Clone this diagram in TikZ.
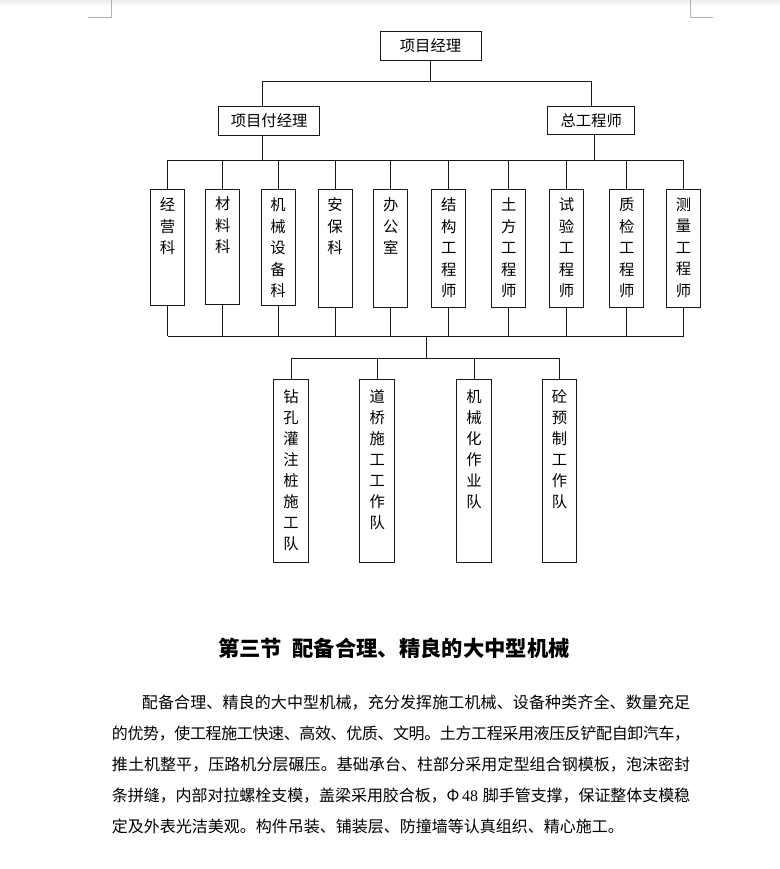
\documentclass[tikz,border=0pt]{standalone}
\usepackage{fontspec}
\newfontfamily\cjk{Noto Sans CJK SC}
\newfontfamily\tnr{Liberation Serif}
\def\jendmarkdef{\jend}
\def\jloop#1{\def\jtmp{#1}\ifx\jtmp\jendmarkdef\unskip\else#1\hss\expandafter\jloop\fi}
\newcommand\jline[2]{\makebox[#1][s]{\jloop#2\jend}}
\begin{document}
\begin{tikzpicture}[x=0.75pt,y=-0.75pt,
 ln/.style={draw=black!90, line width=0.75pt},
 hb/.style={draw=black!90, line width=0.75pt, inner sep=0pt, font=\cjk\fontsize{11.5pt}{13pt}\selectfont},
 vb/.style={draw=black!90, line width=0.75pt, inner sep=0pt, anchor=north, minimum width=25.5pt},
 vt/.style={anchor=north, inner sep=0pt, align=center, font=\cjk\fontsize{11.5pt}{16.1pt}\selectfont},
 wt/.style={vt, font=\cjk\fontsize{11.5pt}{15.75pt}\selectfont},
 para/.style={anchor=base west, inner sep=0pt, font=\cjk\fontsize{12pt}{14pt}\selectfont},
 ttl/.style={anchor=base, inner sep=0pt, font=\cjk\bfseries\fontsize{16pt}{18pt}\selectfont},
 corner/.style={draw=black!30, line width=0.75pt}]
\useasboundingbox (0,0) rectangle (780,869);
\fill[white] (0,0) rectangle (780,869);
\shade[top color=black!8, bottom color=white] (0,0) rectangle (780,6);
\draw[corner] (111,0) -- (111,17.3) -- (88.3,17.3);
\draw[corner] (690.7,0) -- (690.7,17.3) -- (713.3,17.3);

% top level
\node[hb, minimum width=101*0.75pt, minimum height=29*0.75pt] (pm) at (430.5,45.5) {项目经理};
\node[hb, minimum width=101.4*0.75pt, minimum height=28.6*0.75pt] (dpm) at (269.1,121) {项目付经理};
\node[hb, minimum width=87*0.75pt, minimum height=28.3*0.75pt] (ce) at (591.2,120.2) {总工程师};

% departments
\node[vb, minimum height=116*0.75pt] (d1) at (167.5,189) {};
\node[vb, minimum height=115*0.75pt] (d2) at (222.7,189) {};
\node[vb, minimum height=116*0.75pt] (d3) at (278,189) {};
\node[vb, minimum height=118*0.75pt] (d4) at (335,189) {};
\node[vb, minimum height=118*0.75pt] (d5) at (390.8,189) {};
\node[vb, minimum height=118*0.75pt] (d6) at (448.8,189) {};
\node[vb, minimum height=118*0.75pt] (d7) at (508.9,189) {};
\node[vb, minimum height=118*0.75pt] (d8) at (566.6,189) {};
\node[vb, minimum height=118*0.75pt] (d9) at (626.7,189) {};
\node[vb, minimum height=118*0.75pt] (d10) at (683.5,189) {};
\node[vt] (d1t) at ([yshift=-6.4pt]d1.north) {经\\营\\科};
\node[vt] (d2t) at ([yshift=-5.6pt]d2.north) {材\\料\\科};
\node[vt] (d3t) at ([yshift=-6.4pt]d3.north) {机\\械\\设\\备\\科};
\node[vt] (d4t) at ([yshift=-6.4pt]d4.north) {安\\保\\科};
\node[vt] (d5t) at ([yshift=-6.4pt]d5.north) {办\\公\\室};
\node[vt] (d6t) at ([yshift=-6.4pt]d6.north) {结\\构\\工\\程\\师};
\node[vt] (d7t) at ([yshift=-6.4pt]d7.north) {土\\方\\工\\程\\师};
\node[vt] (d8t) at ([yshift=-6.4pt]d8.north) {试\\验\\工\\程\\师};
\node[vt] (d9t) at ([yshift=-6.4pt]d9.north) {质\\检\\工\\程\\师};
\node[vt] (d10t) at ([yshift=-6.4pt]d10.north) {测\\量\\工\\程\\师};

% work teams
\node[vb, minimum width=34.5*0.75pt, minimum height=183.3*0.75pt] (w1) at (291,379) {};
\node[vb, minimum width=34.5*0.75pt, minimum height=183.3*0.75pt] (w2) at (377.2,379) {};
\node[vb, minimum width=34.5*0.75pt, minimum height=183.3*0.75pt] (w3) at (474,379) {};
\node[vb, minimum width=34.5*0.75pt, minimum height=183.3*0.75pt] (w4) at (559.5,379) {};
\node[wt] (w1t) at ([yshift=-7.5pt]w1.north) {钻\\孔\\灌\\注\\桩\\施\\工\\队};
\node[wt] (w2t) at ([yshift=-7.5pt]w2.north) {道\\桥\\施\\工\\工\\作\\队};
\node[wt] (w3t) at ([yshift=-7.5pt]w3.north) {机\\械\\化\\作\\业\\队};
\node[wt] (w4t) at ([yshift=-7.5pt]w4.north) {砼\\预\\制\\工\\作\\队};

% connector coordinates
\coordinate (busone) at (0,81);
\coordinate (bustwo) at (0,160.3);
\coordinate (busthree) at (0,336);
\coordinate (busfour) at (0,358.3);
\coordinate (xl) at (262.5,0);
\coordinate (xr) at (591.7,0);
\coordinate (xrb) at (594.7,0);
\coordinate (xm) at (426,0);

\draw[ln] (pm.south) -- (pm.south |- busone);
\draw[ln] (dpm.north -| xl) -- (xl |- busone) -- (xr |- busone) -- (ce.north -| xr);
\draw[ln] (dpm.south -| xl) -- (xl |- bustwo);
\draw[ln] (ce.south -| xrb) -- (xrb |- bustwo);
\draw[ln] (d1.north |- bustwo) -- (d10.north |- bustwo);
\draw[ln] (d1.south |- busthree) -- (d10.south |- busthree);
\foreach \i in {1,...,10}{
  \draw[ln] (d\i.north) -- (d\i.north |- bustwo);
  \draw[ln] (d\i.south) -- (d\i.south |- busthree);
}
\draw[ln] (xm |- busthree) -- (xm |- busfour);
\draw[ln] (w1.north |- busfour) -- (w4.north |- busfour);
\foreach \i in {1,...,4}{
  \draw[ln] (w\i.north) -- (w\i.north |- busfour);
}

% heading and paragraph
\node[ttl] (title) at (394,656.8) {第三节\hspace{0.5em}配备合理、精良的大中型机械};
\node[para] (p1) at (141.7,708) {\jline{411.2pt}{配备合理、精良的大中型机械，充分发挥施工机械、设备种类齐全、数量充足}};
\node[para] (p2) at (111.7,739.2) {\jline{433.7pt}{的优势，使工程施工快速、高效、优质、文明。土方工程采用液压反铲配自卸汽车，}};
\node[para] (p3) at (111.7,770.4) {\jline{433.7pt}{推土机整平，压路机分层碾压。基础承台、柱部分采用定型组合钢模板，泡沫密封}};
\node[para] (p4) at (111.7,801.6) {\jline{433.7pt}{条拼缝，内部对拉螺栓支模，盖梁采用胶合板，{Φ{\tnr\,48}\hspace{0.3em}}脚手管支撑，保证整体支模稳}};
\node[para] (p5) at (111.7,832.8) {定及外表光洁美观。构件吊装、铺装层、防撞墙等认真组织、精心施工。};
\end{tikzpicture}
\end{document}
